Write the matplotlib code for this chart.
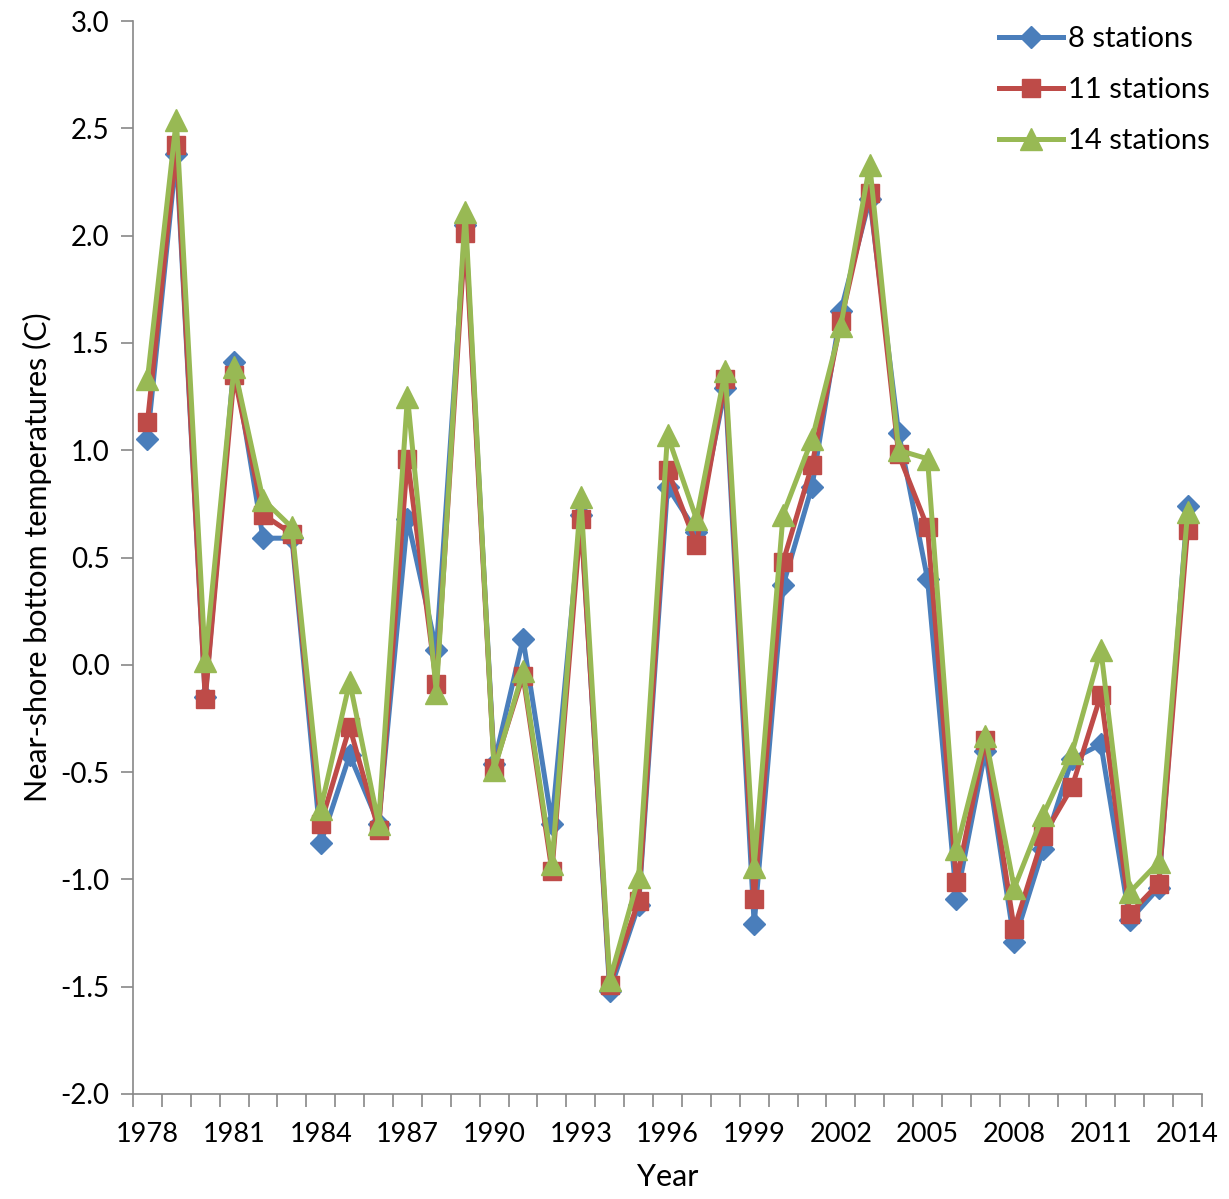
import matplotlib
matplotlib.use('Agg')
import matplotlib.pyplot as plt
from matplotlib.ticker import FormatStrFormatter

plt.rcParams['font.family'] = ['Lato', 'DejaVu Sans']
plt.rcParams['axes.unicode_minus'] = False

years = list(range(1978, 2015))
st8 = [1.05, 2.38, -0.15, 1.41, 0.59, 0.59, -0.83, -0.42, -0.74, 0.68,
       0.07, 2.05, -0.46, 0.12, -0.74, 0.70, -1.52, -1.12, 0.83, 0.62,
       1.29, -1.21, 0.37, 0.83, 1.65, 2.17, 1.08, 0.40, -1.09, -0.40,
       -1.29, -0.86, -0.44, -0.37, -1.19, -1.04, 0.74]
st11 = [1.13, 2.42, -0.16, 1.35, 0.70, 0.61, -0.74, -0.29, -0.77, 0.96,
        -0.09, 2.01, -0.48, -0.05, -0.96, 0.68, -1.49, -1.10, 0.91, 0.56,
        1.33, -1.09, 0.48, 0.93, 1.60, 2.20, 0.98, 0.64, -1.01, -0.35,
        -1.23, -0.80, -0.57, -0.14, -1.16, -1.02, 0.63]
st14 = [1.33, 2.54, 0.02, 1.39, 0.77, 0.64, -0.67, -0.08, -0.74, 1.25,
        -0.13, 2.11, -0.49, -0.03, -0.93, 0.78, -1.47, -0.99, 1.07, 0.68,
        1.37, -0.94, 0.70, 1.05, 1.58, 2.33, 1.00, 0.96, -0.86, -0.33,
        -1.04, -0.70, -0.41, 0.07, -1.06, -0.92, 0.71]

fig = plt.figure(figsize=(12.29, 11.99), dpi=100)
ax = fig.add_axes([133/1229, 1 - 1094/1199, (1202-133)/1229, (1094-21)/1199])

ax.plot(years, st8, color='#4A7EBB', lw=3.6, marker='D', ms=11, label='8 stations')
ax.plot(years, st11, color='#BE4B48', lw=3.6, marker='s', ms=13, label='11 stations')
ax.plot(years, st14, color='#98B954', lw=3.6, marker='^', ms=16, label='14 stations')

ax.set_xlim(1977.5, 2014.5)
ax.set_ylim(-2.0, 3.0)
ax.set_yticks([-2.0, -1.5, -1.0, -0.5, 0.0, 0.5, 1.0, 1.5, 2.0, 2.5, 3.0])
ax.yaxis.set_major_formatter(FormatStrFormatter('%.1f'))
ax.set_xticks(years[::3])
ax.set_xticks([y - 0.5 for y in years] + [2014.5], minor=True)
ax.tick_params(axis='x', which='major', length=0, pad=20, labelsize=19.5)
ax.tick_params(axis='x', which='minor', length=9, color='#888888', width=1.2)
ax.tick_params(axis='y', length=9, color='#888888', width=1.2, labelsize=20, pad=8)

for s in ['top', 'right']:
    ax.spines[s].set_visible(False)
for s in ['left', 'bottom']:
    ax.spines[s].set_color('#888888')
    ax.spines[s].set_linewidth(1.2)

ax.set_xlabel('Year', fontsize=22, labelpad=12)
ax.set_ylabel('Near-shore bottom temperatures (C)', fontsize=22, labelpad=6)

ax.legend(loc='upper right', frameon=False, fontsize=21, handlelength=2.2,
          handletextpad=0.15, labelspacing=0.85, borderaxespad=0.0,
          bbox_to_anchor=(1.018, 1.006))

fig.savefig('out.png', dpi=100)
